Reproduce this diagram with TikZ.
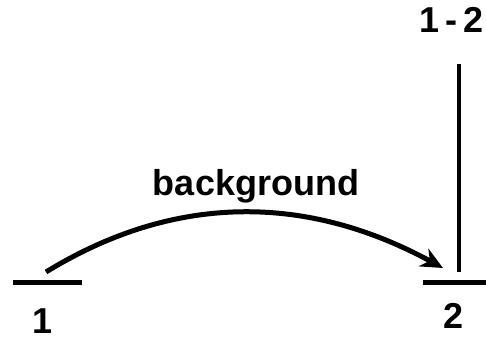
\documentclass[tikz,border=0pt]{standalone}
\usepackage{fontspec}
\setmainfont{Liberation Sans}
\usetikzlibrary{arrows.meta}
\begin{document}
\begin{tikzpicture}[x=1pt,y=-1pt,
  lbl/.style={font=\bfseries\fontsize{36}{40}\selectfont, inner sep=0pt},
  bar/.style={line width=5pt},
  conn/.style={line width=5pt,-{Stealth[length=22pt,width=20pt,inset=7pt]}},
  vline/.style={line width=4pt}]
\useasboundingbox (0,0) rectangle (486,341);
\coordinate (b1l) at (13,282);
\coordinate (b1r) at (82,282);
\coordinate (b2l) at (423,282);
\coordinate (b2r) at (486,282);
\coordinate (a1) at (46,272);
\coordinate (a2) at (443,268);
\coordinate (vt) at (459,64);
\coordinate (vb) at (459,272);
\draw[bar] (b1l) -- (b1r);
\draw[bar] (b2l) -- (b2r);
\draw[vline] (vt) -- (vb);
\draw[conn] (a1) .. controls (173,194) and (305,193) .. (a2);
\node[lbl] (one) at (43,321) {1};
\node[lbl] (two) at (454,316) {2};
\node[lbl] (onetwo) at (452,20) {1\,-\,2};
\node[lbl] (bg) at (256,186) {background};
\end{tikzpicture}
\end{document}
